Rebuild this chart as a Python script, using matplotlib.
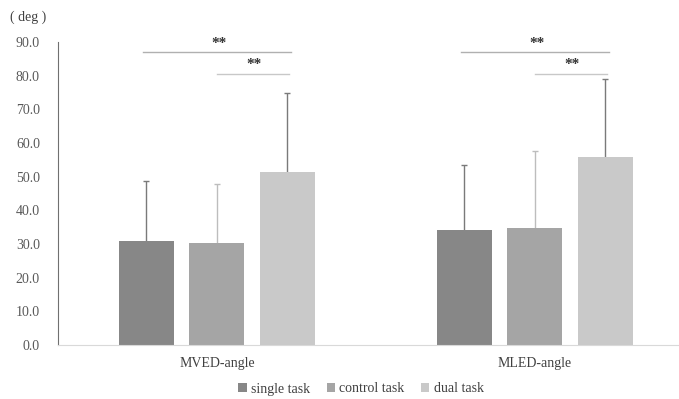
import numpy as np
import matplotlib.pyplot as plt

# data
categories = ["MVED-angle", "MLED-angle"]
series = ["single task", "control task", "dual task"]
means = {
    "single task": [30.8, 34.3],
    "control task": [30.3, 34.8],
    "dual task": [51.4, 55.7],
}
sds = {
    "single task": [17.9, 19.1],
    "control task": [17.6, 22.7],
    "dual task": [23.6, 23.2],
}
yticks = np.arange(0, 91, 10)

colors = {"single task": "#878787", "control task": "#a5a5a5", "dual task": "#c9c9c9"}
err_colors = {"single task": "#7a7a7a", "control task": "#bdbdbd", "dual task": "#7a7a7a"}

plt.rcParams["font.family"] = ["Liberation Serif", "DejaVu Serif"]

fig = plt.figure(figsize=(6.79, 3.99), dpi=100)
ax = fig.add_axes([58 / 679, 54 / 399, 621 / 679, 303 / 399])

x = np.arange(len(categories))
offset = 0.2217
width = 0.173
for i, s in enumerate(series):
    pos = x + (i - 1) * offset
    ax.bar(pos, means[s], width, color=colors[s], label=s, zorder=2)
    # symmetric error bars behind the bars, so only the upper half shows
    ax.errorbar(pos, means[s], yerr=sds[s], fmt="none",
                ecolor=err_colors[s], elinewidth=1, capsize=2, capthick=1, zorder=1)

# significance brackets (single vs dual, control vs dual)
for c in x:
    ax.plot([c - offset - 0.01, c + offset + 0.01], [86.9, 86.9], color="#b0b0b0", lw=1, clip_on=False)
    ax.text(c + 0.005, 87.6, "**", ha="center", va="bottom", fontsize=11,
            fontweight="bold", color="#333333")
    ax.plot([c, c + offset + 0.005], [80.6, 80.6], color="#c8c8c8", lw=1, clip_on=False)
    ax.text(c + offset / 2 + 0.005, 81.3, "**", ha="center", va="bottom", fontsize=11,
            fontweight="bold", color="#333333")

ax.set_xlim(-0.5, 1.453)
ax.set_ylim(0, 90)
ax.set_yticks(yticks)
ax.set_yticklabels([f"{v:.1f}" for v in yticks], fontsize=10, color="#595959")
ax.set_xticks(x)
ax.set_xticklabels(categories, fontsize=10, color="#404040")
ax.tick_params(axis="y", length=0, pad=13)
ax.tick_params(axis="x", length=0, pad=9)

for side in ["top", "right"]:
    ax.spines[side].set_visible(False)
ax.spines["left"].set_color("#707070")
ax.spines["bottom"].set_color("#d9d9d9")

fig.text(10 / 679, 1 - 17 / 399, "( deg )", fontsize=10, color="#404040", va="center")

ax.legend(loc="center", bbox_to_anchor=(361 / 679, 1 - 389 / 399), bbox_transform=fig.transFigure,
          ncol=3, frameon=False, fontsize=10, handlelength=0.6, handleheight=0.6,
          handletextpad=0.3, columnspacing=1.2, labelcolor="#404040")

plt.savefig("out.png", dpi=100)
